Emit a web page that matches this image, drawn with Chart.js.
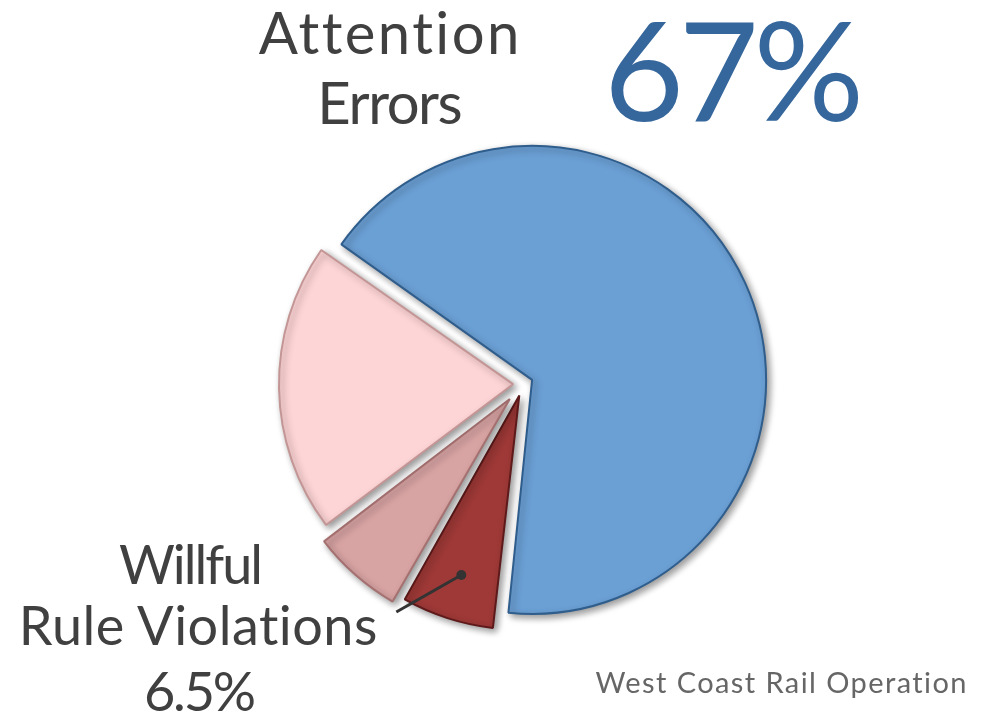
<!DOCTYPE html>
<html>
<head>
<meta charset="utf-8">
<script src="https://cdn.jsdelivr.net/npm/chart.js@4.4.1/dist/chart.umd.min.js"></script>
<style>
  html, body { margin: 0; padding: 0; background: #fff; }
  #wrap { position: relative; width: 994px; height: 718px; overflow: hidden; }
  #wrap canvas { position: absolute; left: 0; top: 0; }
  .lbl { position: absolute; white-space: nowrap; font-family: Lato, sans-serif; line-height: 1; color: #404040; }
</style>
</head>
<body>
<div id="wrap">
  <canvas id="pieChart" width="994" height="718"></canvas>
  <div class="lbl" data-cx="389" data-base="54" data-w="262" data-size="58">Attention</div>
  <div class="lbl" data-cx="390" data-base="124" data-w="144" data-size="58">Errors</div>
  <div class="lbl" data-cx="734" data-base="121" data-w="255" data-size="138" style="color:#35679d">67%</div>
  <div class="lbl" data-cx="191" data-base="585" data-w="142" data-size="54">Willful</div>
  <div class="lbl" data-cx="198" data-base="646" data-w="360" data-size="54">Rule Violations</div>
  <div class="lbl" data-cx="200" data-base="712" data-w="110" data-size="54">6.5%</div>
  <div class="lbl" data-cx="781" data-base="693" data-w="373" data-size="29" style="color:#666">West Coast Rail Operation</div>
</div>
<script>
// data
const categories = ["Attention Errors", "Willful Rule Violations", "Category 3", "Category 4"];
const shares = [67, 6.5, 6.5, 20];

// slice looks
const sliceColors = ["#6ba0d5", "#9e3937", "#d8a3a3", "#fed5d6"];
const sliceBorders = ["#2f5d8c", "#5e1a1a", "#a57070", "#c49595"];
const sliceShift = [10, 12, 20, 10]; // px the slice is pulled out

// place the text labels
document.querySelectorAll(".lbl").forEach(function (el) {
  const size = +el.dataset.size;
  el.style.fontSize = size + "px";
  el.style.top = (+el.dataset.base - 0.887 * size) + "px";
  const n = el.textContent.length;
  const w = el.getBoundingClientRect().width;
  const ls = (+el.dataset.w - w) / n;
  el.style.letterSpacing = ls + "px";
  const w2 = el.getBoundingClientRect().width - ls;
  el.style.left = (+el.dataset.cx - w2 / 2) + "px";
});

// v4 arcs grow their radius when offset, take that back
const keepRadius = {
  id: "keepRadius",
  afterDatasetUpdate(chart) {
    const meta = chart.getDatasetMeta(0);
    meta.data.forEach(function (arc, i) {
      const fix = 1 - Math.sin(Math.min(Math.PI, arc.circumference));
      arc.outerRadius -= sliceShift[i] * fix;
    });
  },
};

const sliceShadow = {
  id: "sliceShadow",
  beforeDatasetsDraw(chart) {
    const ctx = chart.ctx;
    ctx.save();
    ctx.shadowColor = "rgba(0,0,0,0.4)";
    ctx.shadowBlur = 7;
    ctx.shadowOffsetX = 3;
    ctx.shadowOffsetY = 3;
  },
  afterDatasetsDraw(chart) {
    chart.ctx.restore();
  },
};

// leader line from the violations slice to its label
const leader = {
  id: "leader",
  afterDraw(chart) {
    const arc = chart.getDatasetMeta(0).data[1];
    const p = arc.getProps(["x", "y", "startAngle", "endAngle", "outerRadius"], true);
    const mid = (p.startAngle + p.endAngle) / 2;
    const r = p.outerRadius * 0.885;
    const dx = p.x + Math.cos(mid) * r;
    const dy = p.y + Math.sin(mid) * r;
    const ctx = chart.ctx;
    ctx.save();
    ctx.strokeStyle = "#333";
    ctx.fillStyle = "#333";
    ctx.lineWidth = 3;
    ctx.beginPath();
    ctx.moveTo(dx, dy);
    ctx.lineTo(dx - 65, dy + 37);
    ctx.stroke();
    ctx.beginPath();
    ctx.arc(dx, dy, 5, 0, Math.PI * 2);
    ctx.fill();
    ctx.restore();
  },
};

new Chart(document.getElementById("pieChart"), {
  type: "pie",
  data: {
    labels: categories,
    datasets: [
      {
        data: shares,
        backgroundColor: sliceColors,
        borderColor: sliceBorders,
        borderWidth: 2,
        offset: sliceShift.map(function (s) { return s * 4; }),
        radius: 234,
      },
    ],
  },
  options: {
    responsive: false,
    devicePixelRatio: 1,
    animation: false,
    events: [],
    rotation: -55,
    layout: { padding: { left: 52, top: 50, right: 0, bottom: 0 } },
    plugins: {
      legend: { display: false },
      tooltip: { enabled: false },
    },
  },
  plugins: [keepRadius, sliceShadow, leader],
});
</script>
</body>
</html>
